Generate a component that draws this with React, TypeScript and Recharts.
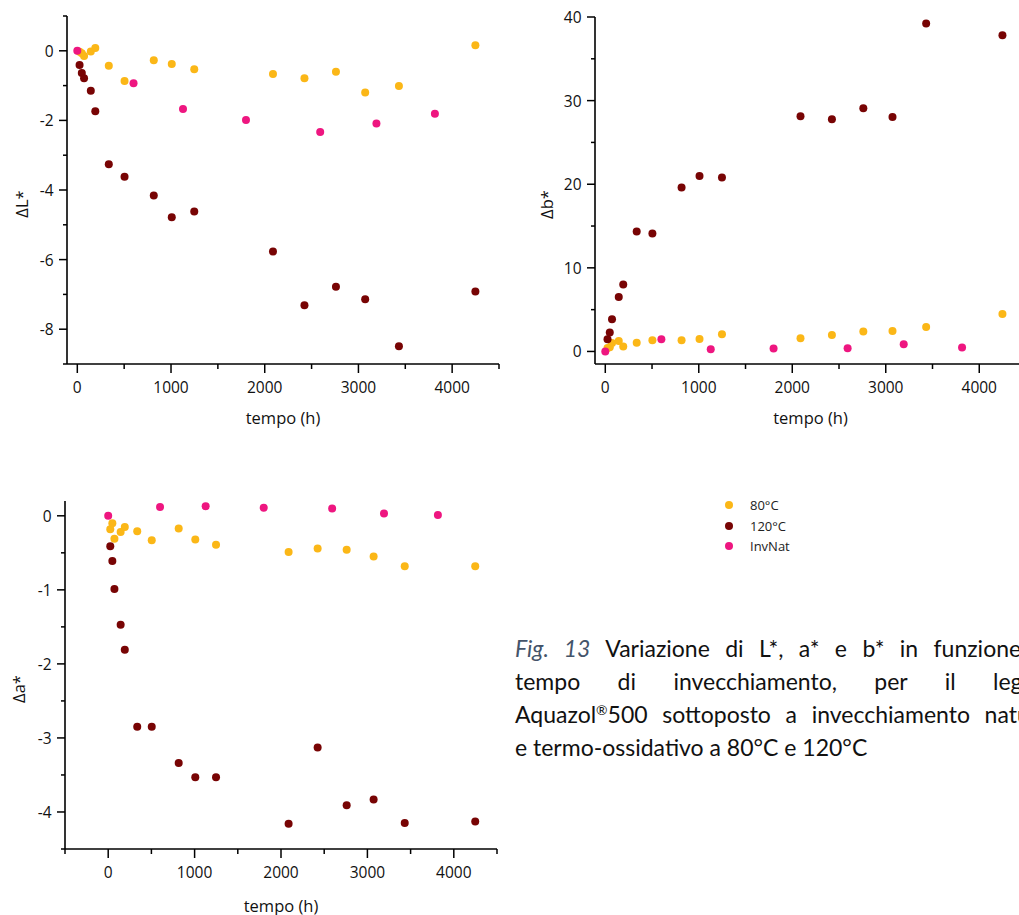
import React from "react";
import { ScatterChart, Scatter, XAxis, YAxis } from "recharts";

// sampling times (h)
const timesOven = [24, 48, 72, 144, 192, 336, 504, 816, 1008, 1248, 2088, 2424, 2760, 3072, 3432, 4248];
const timesNat = [0, 600, 1128, 1800, 2592, 3192, 3816];

// ΔL*
const dL80 = [-0.03, -0.07, -0.15, -0.02, 0.08, -0.43, -0.87, -0.27, -0.38, -0.53, -0.67, -0.79, -0.6, -1.2, -1.01, 0.16];
const dL120 = [-0.41, -0.64, -0.79, -1.15, -1.74, -3.26, -3.62, -4.16, -4.78, -4.62, -5.77, -7.31, -6.78, -7.14, -8.49, -6.92];
const dLNat = [0, -0.93, -1.67, -1.99, -2.33, -2.09, -1.81];

// Δb*
const db80 = [0.4, 0.5, 1.0, 1.26, 0.6, 1.05, 1.35, 1.35, 1.5, 2.06, 1.59, 1.98, 2.38, 2.46, 2.94, 4.48];
const db120 = [1.47, 2.26, 3.85, 6.51, 8.02, 14.34, 14.1, 19.62, 20.97, 20.81, 28.13, 27.77, 29.08, 28.05, 39.21, 37.82];
const dbNat = [0, 1.47, 0.27, 0.36, 0.38, 0.87, 0.48];

// Δa*
const da80 = [-0.18, -0.1, -0.31, -0.22, -0.15, -0.21, -0.33, -0.17, -0.32, -0.39, -0.49, -0.44, -0.46, -0.55, -0.68, -0.68];
const da120 = [-0.41, -0.61, -0.99, -1.47, -1.81, -2.85, -2.85, -3.34, -3.53, -3.53, -4.16, -3.13, -3.91, -3.83, -4.15, -4.13];
const daNat = [0, 0.12, 0.13, 0.11, 0.1, 0.03, 0.01];

const seriesNames = ["80°C", "120°C", "InvNat"];
const seriesColors = ["#FBB717", "#780404", "#EE1680"];

// axis ticks (major ones carry a label)
const xTicksA = [0, 500, 1000, 1500, 2000, 2500, 3000, 3500, 4000, 4500];
const xTicksB = [-500, 0, 500, 1000, 1500, 2000, 2500, 3000, 3500, 4000, 4500];
const xMajor = [0, 1000, 2000, 3000, 4000];
const yTicksL = [-9, -8, -7, -6, -5, -4, -3, -2, -1, 0, 1];
const yMajorL = [-8, -6, -4, -2, 0];
const yTicksB = [0, 5, 10, 15, 20, 25, 30, 35, 40];
const yMajorB = [0, 10, 20, 30, 40];
const yTicksA = [-4.5, -4, -3.5, -3, -2.5, -2, -1.5, -1, -0.5, 0];
const yMajorA = [-4, -3, -2, -1, 0];

// caption, one entry per printed line
const captionLines = [
  "Variazione di L*, a* e b* in funzione del",
  "tempo di invecchiamento, per il legante",
  "Aquazol®500 sottoposto a invecchiamento naturale",
  "e termo-ossidativo a 80°C e 120°C",
];

const FONT = "'Open Sans', sans-serif";

const toPoints = (xs: number[], ys: number[]) => xs.map((x, i) => ({ x, y: ys[i] }));

const Dot = (color: string) => (p: any) => <circle cx={p.cx} cy={p.cy} r={4} fill={color} />;

const XTick = (majors: number[]) => (p: any) => {
  const v = p.payload.value;
  const major = majors.includes(v);
  return (
    <g>
      <line x1={p.x} x2={p.x} y1={p.y} y2={p.y + (major ? 9 : 5)} stroke="#000" strokeWidth={1.5} />
      {major && (
        <text x={p.x} y={p.y + 23} textAnchor="middle" dominantBaseline="central" fontSize={15.5} fontFamily={FONT} fill="#111">
          {v}
        </text>
      )}
    </g>
  );
};

const YTick = (majors: number[]) => (p: any) => {
  const v = p.payload.value;
  const major = majors.includes(v);
  return (
    <g>
      <line x1={p.x - (major ? 8 : 4)} x2={p.x} y1={p.y} y2={p.y} stroke="#000" strokeWidth={1.5} />
      {major && (
        <text x={p.x - 13.5} y={p.y} textAnchor="end" dominantBaseline="central" fontSize={15.5} fontFamily={FONT} fill="#111">
          {v}
        </text>
      )}
    </g>
  );
};

// the ® in the product name is set smaller and raised
const renderCaptionText = (line: string) => {
  const parts = line.split("®");
  if (parts.length === 1) return line;
  return (
    <>
      {parts[0]}
      <span style={{ fontSize: "0.6em", verticalAlign: "0.6em", lineHeight: 0 }}>®</span>
      {parts[1]}
    </>
  );
};

type PanelProps = {
  left: number;
  top: number;
  height: number;
  margin: { top: number; right: number; bottom: number; left: number };
  yWidth: number;
  xDomain: [number, number];
  xTicks: number[];
  yDomain: [number, number];
  yTicks: number[];
  yMajor: number[];
  yLabel: string;
  yLabelGap: number;
  xLabelDy: number;
  series: { x: number; y: number }[][];
};

function Panel(props: PanelProps) {
  const { left, top, height, margin, yWidth, xDomain, xTicks, yDomain, yTicks, yMajor, yLabel, yLabelGap, xLabelDy, series } = props;
  return (
    <div style={{ position: "absolute", left, top }}>
      <ScatterChart width={520} height={height} margin={margin}>
        <XAxis
          type="number"
          dataKey="x"
          domain={xDomain}
          ticks={xTicks}
          interval={0}
          tickSize={0}
          tickMargin={0}
          tickLine={false}
          height={66}
          axisLine={{ stroke: "#000", strokeWidth: 1.6 }}
          tick={XTick(xMajor)}
          allowDataOverflow
          label={(p: any) => (
            <text
              x={p.viewBox.x + p.viewBox.width / 2}
              y={p.viewBox.y + xLabelDy}
              textAnchor="middle"
              dominantBaseline="central"
              fontSize={16.5}
              fontFamily={FONT}
              fill="#111"
            >
              tempo (h)
            </text>
          )}
        />
        <YAxis
          type="number"
          dataKey="y"
          domain={yDomain}
          ticks={yTicks}
          interval={0}
          tickSize={0}
          tickMargin={0}
          tickLine={false}
          width={yWidth}
          axisLine={{ stroke: "#000", strokeWidth: 1.6 }}
          tick={YTick(yMajor)}
          allowDataOverflow
          label={(p: any) => {
            const cx = p.viewBox.x + p.viewBox.width - yLabelGap;
            const cy = p.viewBox.y + p.viewBox.height / 2 + 14;
            return (
              <text
                x={cx}
                y={cy}
                transform={`rotate(-90 ${cx} ${cy})`}
                textAnchor="middle"
                dominantBaseline="central"
                fontSize={16.5}
                fontFamily={FONT}
                fill="#111"
              >
                {yLabel}
              </text>
            );
          }}
        />
        {series.map((pts, i) => (
          <Scatter
            key={seriesNames[i]}
            name={seriesNames[i]}
            data={pts}
            fill={seriesColors[i]}
            shape={Dot(seriesColors[i])}
            isAnimationActive={false}
          />
        ))}
      </ScatterChart>
    </div>
  );
}

export default function App() {
  const seriesL = [toPoints(timesOven, dL80), toPoints(timesOven, dL120), toPoints(timesNat, dLNat)];
  const seriesB = [toPoints(timesOven, db80), toPoints(timesOven, db120), toPoints(timesNat, dbNat)];
  const seriesA = [toPoints(timesOven, da80), toPoints(timesOven, da120), toPoints(timesNat, daNat)];

  return (
    <div style={{ position: "fixed", left: 0, top: 0, width: 1019, height: 915, overflow: "hidden", background: "#fff" }}>
      <Panel
        left={0}
        top={0}
        height={430}
        margin={{ top: 16, right: 21, bottom: 0, left: 0 }}
        yWidth={67}
        xDomain={[-110, 4500]}
        xTicks={xTicksA}
        yDomain={[-9, 1]}
        yTicks={yTicksL}
        yMajor={yMajorL}
        yLabel="ΔL*"
        yLabelGap={46}
        xLabelDy={53}
        series={seriesL}
      />
      <Panel
        left={528}
        top={0}
        height={430}
        margin={{ top: 17, right: 22, bottom: 0, left: 0 }}
        yWidth={67}
        xDomain={[-110, 4500]}
        xTicks={xTicksA}
        yDomain={[-1.5, 40]}
        yTicks={yTicksB}
        yMajor={yMajorB}
        yLabel="Δb*"
        yLabelGap={49}
        xLabelDy={53}
        series={seriesB}
      />
      <Panel
        left={0}
        top={480}
        height={435}
        margin={{ top: 21, right: 23, bottom: 0, left: 0 }}
        yWidth={65}
        xDomain={[-500, 4500]}
        xTicks={xTicksB}
        yDomain={[-4.5, 0.2]}
        yTicks={yTicksA}
        yMajor={yMajorA}
        yLabel="Δa*"
        yLabelGap={47}
        xLabelDy={56}
        series={seriesA}
      />

      {/* legend */}
      <div style={{ position: "absolute", left: 725, top: 495, fontFamily: FONT, fontSize: 13, color: "#222" }}>
        {seriesNames.map((name, i) => (
          <div key={name} style={{ display: "flex", alignItems: "center", height: 20.5 }}>
            <span style={{ width: 8, height: 8, borderRadius: 4, background: seriesColors[i], display: "inline-block" }} />
            <span style={{ marginLeft: 17 }}>{name}</span>
          </div>
        ))}
      </div>

      {/* caption: justified lines, last one left aligned */}
      <div
        style={{
          position: "absolute",
          left: 515,
          top: 632,
          width: 552,
          fontFamily: "Lato, sans-serif",
          fontSize: 23,
          lineHeight: "33px",
          color: "#111",
        }}
      >
        {captionLines.map((line, i) => (
          <div
            key={i}
            style={{
              whiteSpace: "nowrap",
              height: 33,
              textAlign: i < captionLines.length - 1 ? "justify" : "left",
              textAlignLast: i < captionLines.length - 1 ? "justify" : "left",
            }}
          >
            {i === 0 && <span style={{ fontStyle: "italic", color: "#44546A" }}>Fig. 13 </span>}
            {renderCaptionText(line)}
          </div>
        ))}
      </div>
    </div>
  );
}
